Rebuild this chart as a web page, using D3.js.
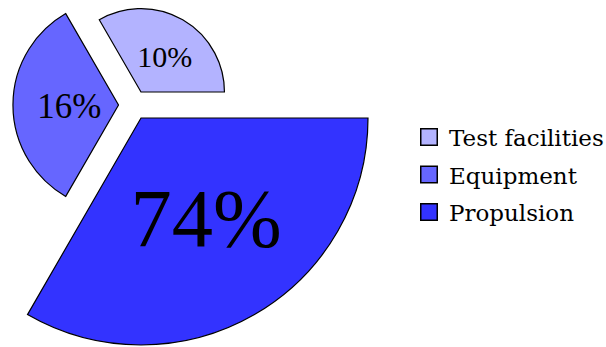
<!DOCTYPE html>
<html>
<head>
<meta charset="utf-8">
<script src="https://cdn.jsdelivr.net/npm/d3@7"></script>
<style>
  html, body { margin: 0; padding: 0; background: #fff; }
  svg { display: block; }
</style>
</head>
<body>
<svg id="chart" width="606" height="347"></svg>
<script>
// Budget shares, drawn as a polar pie: every slice gets the same angle,
// the slice area grows with the share.
const categories = ["Test facilities", "Equipment", "Propulsion"];
const shares = [10, 16, 74];
const colors = ["#b3b3ff", "#6666ff", "#3333ff"];

const svg = d3.select("#chart");
const cx = 133.5, cy = 105;      // pie centre
const explode = 15;              // offset of each slice along its mid-angle

const radius = d3.scaleSqrt()
  .domain([0, d3.max(shares)])
  .range([0, 227]);

// Label font grows linearly with the share
const fontSize = d3.scaleLinear().domain([10, 74]).range([30, 82.5]);

// Equal angular slices starting at 3 o'clock, running counter-clockwise
const step = 2 * Math.PI / shares.length;
const slices = shares.map((v, i) => {
  const start = Math.PI / 2 - (i + 1) * step;
  const end = Math.PI / 2 - i * step;
  const mid = (start + end) / 2;
  return {
    value: v, category: categories[i], color: colors[i],
    startAngle: start, endAngle: end, mid,
    r: radius(v),
    ox: cx + Math.sin(mid) * explode,
    oy: cy - Math.cos(mid) * explode
  };
});

const arc = d3.arc().innerRadius(0).outerRadius(d => d.r);

const g = svg.append("g");
g.selectAll("path.slice")
  .data(slices)
  .join("path")
  .attr("class", "slice")
  .attr("transform", d => `translate(${d.ox},${d.oy})`)
  .attr("d", arc)
  .attr("fill", d => d.color)
  .attr("stroke", "#000")
  .attr("stroke-width", 1.2)
  .attr("stroke-linejoin", "miter");

g.selectAll("text.pct")
  .data(slices)
  .join("text")
  .attr("class", "pct")
  .attr("x", d => d.ox + Math.sin(d.mid) * d.r * 0.5 + 0.1 * fontSize(d.value))
  .attr("y", d => d.oy - Math.cos(d.mid) * d.r * 0.5 + 0.36 * fontSize(d.value))
  .attr("text-anchor", "middle")
  .attr("font-family", "'Liberation Serif', serif")
  .attr("font-size", d => fontSize(d.value))
  .attr("fill", "#000")
  .text(d => d.value + "%");

// Legend
const legend = svg.append("g").attr("transform", "translate(420,128)");
const rowH = 37.5;
const rows = legend.selectAll("g.row")
  .data(slices)
  .join("g")
  .attr("class", "row")
  .attr("transform", (d, i) => `translate(0,${i * rowH})`);

rows.append("rect")
  .attr("x", 0.75).attr("y", 0.75)
  .attr("width", 16.5).attr("height", 16.5)
  .attr("fill", d => d.color)
  .attr("stroke", "#000")
  .attr("stroke-width", 1.5);

rows.append("text")
  .attr("x", 29)
  .attr("y", 18)
  .attr("font-family", "'DejaVu Serif', serif")
  .attr("font-size", 23)
  .attr("fill", "#000")
  .text(d => d.category);
</script>
</body>
</html>
